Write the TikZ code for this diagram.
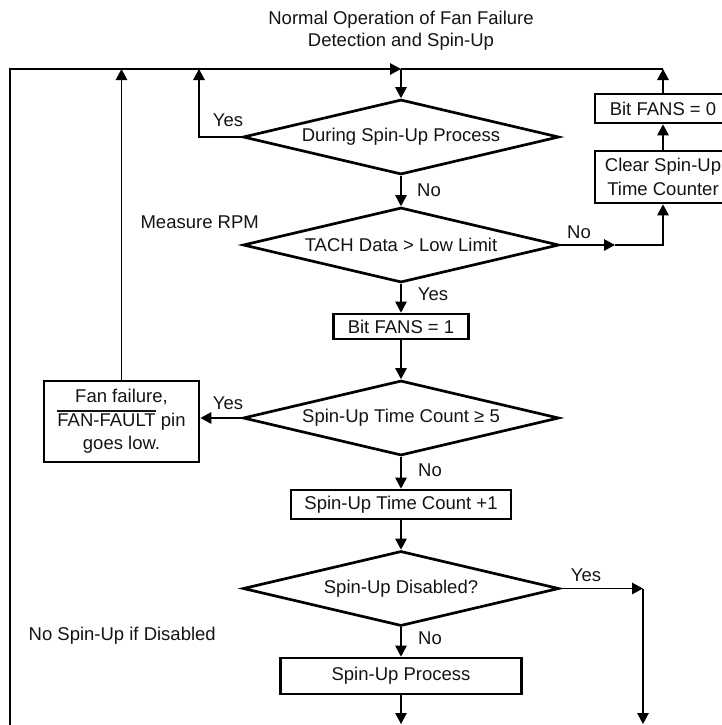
\documentclass[tikz,border=0pt]{standalone}
\usepackage{fontspec}
\setmainfont{Liberation Sans}
\usetikzlibrary{arrows.meta,shapes.geometric}
\newcommand\fanbar[1]{\vbox{\hrule height 1.6pt\kern 1.8pt\hbox{#1}}}
\begin{document}
\begin{tikzpicture}[x=1pt,y=-1pt,
  txt/.style={font=\fontsize{18.5}{23.5}\selectfont, text=black!92},
  box/.style={txt, draw, line width=2.7pt, inner sep=0pt, rectangle},
  dec/.style={txt, draw, line width=2.7pt, diamond, aspect=4.2, inner sep=0pt,
              minimum width=316pt, minimum height=75pt},
  conn/.style={line width=1.3pt},
  arr/.style={conn, -{Triangle[length=11pt,width=11.5pt]}},
  lbl/.style={txt, inner sep=0pt}]
\useasboundingbox (0,0) rectangle (721,725);

% title
\node[txt, align=center, font=\fontsize{18.5}{22}\selectfont] (title) at (401,31) {Normal Operation of Fan Failure\\Detection and Spin-Up};

% main nodes
\node[dec] (d1) at (401,137) {During Spin-Up Process};
\node[dec] (d2) at (401,245) {TACH Data > Low Limit};
\node[box, minimum width=135pt, minimum height=25pt] (bf1) at (401,326.5) {Bit FANS = 1};
\node[dec] (d3) at (401,418) {Spin-Up Time Count ≥ 5};
\node[box, minimum width=220pt, minimum height=29pt] (stc) at (401,504.5) {Spin-Up Time Count +1};
\node[dec] (d4) at (401,588.5) {Spin-Up Disabled?};
\node[box, minimum width=241pt, minimum height=36pt] (sup) at (401,676) {Spin-Up Process};
\node[box, minimum width=155pt, minimum height=81pt, align=center] (ff) at (121.5,421.5) {Fan failure,\\\fanbar{FAN-FAULT} pin\\goes low.};
\node[box, minimum width=136pt, minimum height=29pt] (bf0) at (663,108.5) {Bit FANS = 0};
\node[box, minimum width=136pt, minimum height=52pt, align=center] (csu) at (663,177) {Clear Spin-Up\\Time Counter};

% coordinates
\coordinate (top) at (401,69);
\coordinate (lb) at (10,726);
\coordinate (lt) at (10,69);
\coordinate (rt) at (663,69);
\coordinate (y1) at (199,137);
\coordinate (y1t) at (199,69);
\coordinate (fft) at (121.5,69);
\coordinate (nomid) at (615,245);
\coordinate (nocorner) at (663,245);
\coordinate (yescorner) at (643,588.5);
\coordinate (yesend) at (643,724);
\coordinate (supend) at (401,724);

% connectors
\draw[arr] (lb) -- (lt) -- (top);
\draw[conn] (rt) -- (top);
\draw[arr] (top) -- (d1.north);
\draw[arr] (bf0.north) -- (rt);
\draw[arr] (csu.north) -- (bf0.south);
\draw[arr] (d2.east) -- (nomid);
\draw[arr] (nomid) -- (nocorner) -- (csu.south);
\draw[arr] (d1.west) -- (y1) -- (y1t);
\draw[arr] (d1.south) -- (d2.north);
\draw[arr] (d2.south) -- (bf1.north);
\draw[arr] (bf1.south) -- (d3.north);
\draw[arr] (d3.west) -- (d3.west -| ff.east);
\draw[arr] (ff.north) -- (fft);
\draw[arr] (d3.south) -- (stc.north);
\draw[arr] (stc.south) -- (d4.north);
\draw[arr] (d4.south) -- (sup.north);
\draw[arr] (d4.east) -- (yescorner);
\draw[arr] (yescorner) -- (yesend);
\draw[arr] (sup.south) -- (supend);

% labels
\node[lbl] (l1) at (228,120) {Yes};
\node[lbl] (l2) at (429,190) {No};
\node[lbl, anchor=east] (l3) at (259,222) {Measure RPM};
\node[lbl] (l4) at (579,232) {No};
\node[lbl] (l5) at (433,294) {Yes};
\node[lbl] (l6) at (228,403) {Yes};
\node[lbl] (l7) at (430,470) {No};
\node[lbl] (l8) at (586,575) {Yes};
\node[lbl] (l9) at (430,638) {No};
\node[lbl, anchor=east] (l10) at (216,636) {No Spin-Up if Disabled};
\end{tikzpicture}
\end{document}
